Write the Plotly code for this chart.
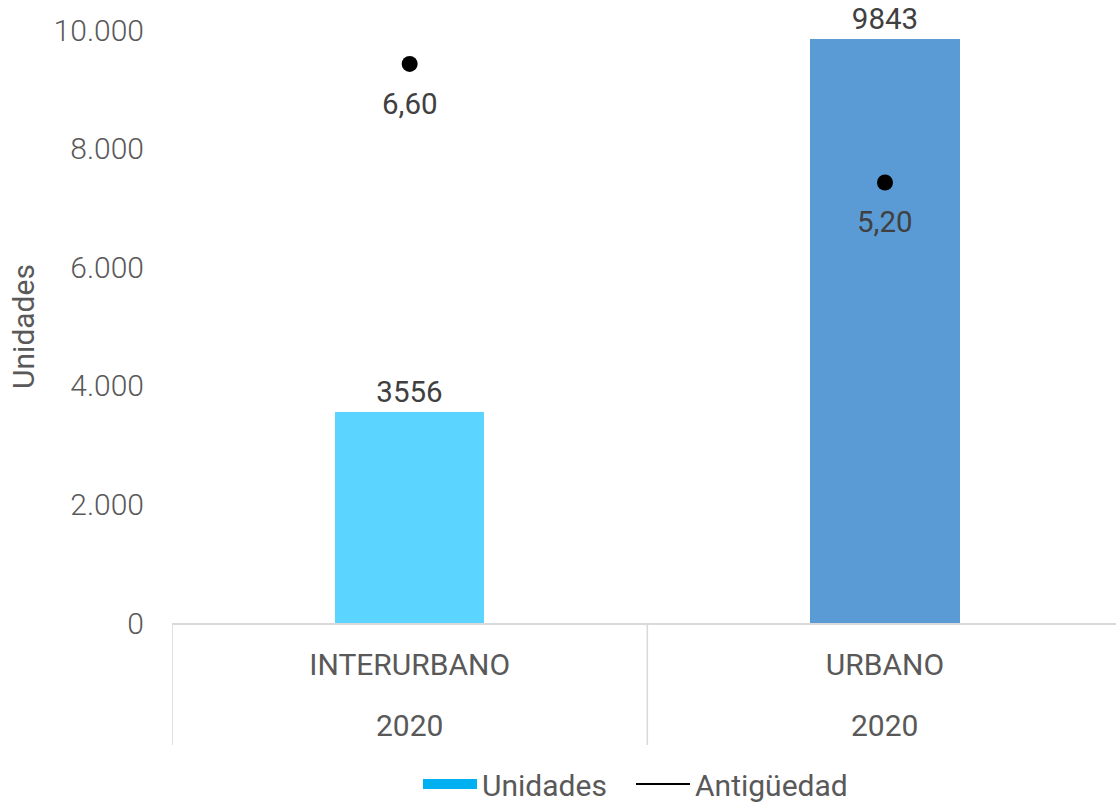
import plotly.graph_objects as go

categories = ["INTERURBANO", "URBANO"]
years = ["2020", "2020"]
unidades = [3556, 9843]
antiguedad = [6.60, 5.20]
bar_colors = ["#5BD5FF", "#5B9BD5"]

FONT = "Roboto"
GREY = "#595959"
DARK = "#404040"

fig = go.Figure()

fig.add_trace(go.Bar(
    x=categories, y=unidades, name="Unidades", showlegend=False,
    marker=dict(color=bar_colors, line=dict(width=0)), width=0.314,
    text=[str(v) for v in unidades], textposition="outside", cliponaxis=False,
    textfont=dict(family=FONT, size=29.5, color=DARK),
))
fig.add_trace(go.Scatter(
    x=categories, y=antiguedad, name="Antigüedad", yaxis="y2", mode="markers",
    showlegend=False, cliponaxis=False,
    marker=dict(color="black", size=16),
))
# legend entries
fig.add_trace(go.Scatter(x=[None], y=[None], mode="lines", name="Unidades",
                         legend="legend",
                         line=dict(color="#00B0F0", width=17)))
fig.add_trace(go.Scatter(x=[None], y=[None], mode="lines", name="Antigüedad",
                         legend="legend2",
                         line=dict(color="black", width=2)))

annotations = []
for c, v in zip(categories, antiguedad):
    annotations.append(dict(x=c, y=v, xref="x", yref="y2", yshift=-40,
                            text=f"{v:.2f}".replace(".", ","), showarrow=False,
                            font=dict(family=FONT, size=29.5, color=DARK)))
for c, yr in zip(categories, years):
    annotations.append(dict(x=c, y=-(725 - 623) / 593, xref="x", yref="paper",
                            text=yr, showarrow=False, yanchor="middle",
                            font=dict(family=FONT, size=30, color=GREY)))

shapes = [dict(type="line", xref="x", yref="paper", x0=b, x1=b, y0=0,
               y1=-(745 - 623) / 593, line=dict(color="#D9D9D9", width=1.5))
          for b in [-0.5, 0.5, 1.5]]

leg_common = dict(orientation="h", xanchor="left", y=-(784 - 623) / 593,
                  yanchor="middle", itemwidth=54, bgcolor="rgba(0,0,0,0)",
                  font=dict(family=FONT, size=30, color=GREY))

fig.update_layout(
    width=1116, height=802,
    margin=dict(l=172, r=0, t=30, b=179, autoexpand=False),
    paper_bgcolor="white", plot_bgcolor="white",
    separators=",.",
    font=dict(family=FONT, size=30, color=GREY),
    xaxis=dict(range=[-0.5, 1.486], showgrid=False, showline=True,
               linecolor="#D9D9D9", linewidth=1.5, automargin=False,
               ticks="outside", ticklen=14, tickcolor="rgba(0,0,0,0)",
               tickfont=dict(family=FONT, size=30, color=GREY)),
    yaxis=dict(range=[0, 10000], dtick=2000, tickformat=",.0f",
               showgrid=False, zeroline=False, showline=False, automargin=False,
               ticks="outside", ticklen=21, tickcolor="rgba(0,0,0,0)",
               tickfont=dict(family=FONT, size=30, color=GREY, weight=300),
               title=dict(text="Unidades", standoff=10,
                          font=dict(family=FONT, size=30, color=GREY))),
    yaxis2=dict(range=[0, 7], overlaying="y", side="right", visible=False),
    legend=dict(x=(418 - 172) / 944, **leg_common),
    legend2=dict(x=(631 - 172) / 944, **leg_common),
    annotations=annotations, shapes=shapes,
    bargap=0,
)

fig.write_html("out.html", config={"displayModeBar": False},
               post_script="document.body.style.margin='0px';document.body.style.overflow='hidden';")
